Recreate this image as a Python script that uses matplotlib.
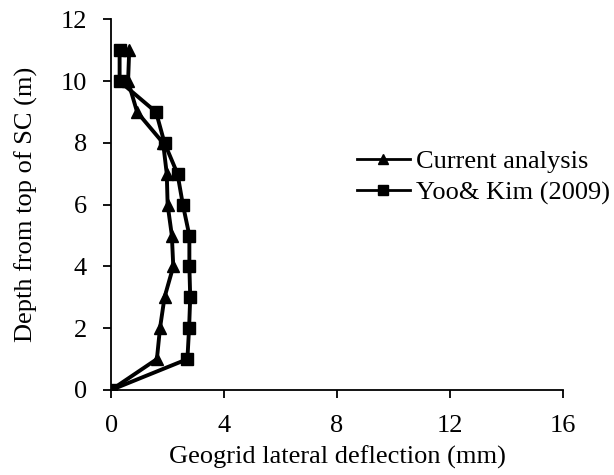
import matplotlib
matplotlib.use("Agg")
import matplotlib.pyplot as plt
from matplotlib.lines import Line2D

depth = [0, 1, 2, 3, 4, 5, 6, 7, 8, 9, 10, 11]
current = [0, 1.62, 1.73, 1.89, 2.2, 2.15, 2.0, 1.97, 1.84, 0.92, 0.6, 0.64]
yoo_kim = [0, 2.7, 2.76, 2.8, 2.77, 2.77, 2.54, 2.35, 1.89, 1.59, 0.3, 0.3]
labels = ["Current analysis", "Yoo& Kim (2009)"]

plt.rcParams['font.family'] = ['Liberation Serif', 'DejaVu Serif']
fig = plt.figure(figsize=(6.14, 4.75), dpi=100)
ax = fig.add_axes([0.181, 0.179, 0.736, 0.78])

ax.plot(current, depth, color='black', lw=2.8, marker='^', markersize=8.5, label=labels[0])
ax.plot(yoo_kim, depth, color='black', lw=2.8, marker='s', markersize=8, label=labels[1])

ax.set_xlim(0, 16)
ax.set_ylim(0, 12)
ax.set_xticks([0, 4, 8, 12, 16])
ax.set_yticks([0, 2, 4, 6, 8, 10, 12])
for s in ['top', 'right']:
    ax.spines[s].set_visible(False)
for s in ['left', 'bottom']:
    ax.spines[s].set_linewidth(1.3)
ax.tick_params(labelsize=19, width=1.3, length=6, direction='out')
ax.tick_params(axis='x', pad=12)
ax.tick_params(axis='y', pad=11.5)
ax.set_xlabel("Geogrid lateral deflection (mm)", fontsize=19, labelpad=6)
ax.set_ylabel("Depth from top of SC (m)", fontsize=19, labelpad=16)

handles = [Line2D([0], [0], color='black', lw=2, marker='^', markersize=7),
           Line2D([0], [0], color='black', lw=2, marker='s', markersize=7)]
fig.legend(handles, labels, loc='center left', bbox_to_anchor=(0.581, 0.627),
           frameon=False, fontsize=19, handlelength=2.0, handletextpad=0.23,
           labelspacing=0.3, borderpad=0, borderaxespad=0)

fig.savefig("out.png", dpi=100)
